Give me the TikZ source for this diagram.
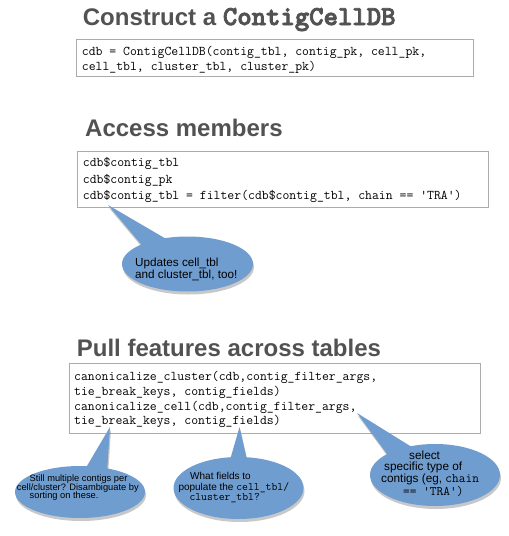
\documentclass[tikz,border=0pt]{standalone}
\usepackage{fontspec}
\setmainfont{Liberation Sans}
\newfontfamily\titlemono{lmmonolt10-bold.otf}[FakeBold=3]
\usetikzlibrary{calc,shadows,shapes.geometric}
\definecolor{titlegray}{HTML}{525252}
\definecolor{callblue}{RGB}{112,157,207}
\definecolor{boxline}{HTML}{ABABAB}
\begin{document}
\begin{tikzpicture}[x=1pt,y=-1pt,
  titletext/.style={anchor=base west, inner sep=0, text=titlegray, font=\fontsize{24}{28}\selectfont\bfseries},
  codeline/.style={anchor=base west, inner sep=0, font=\ttfamily\fontsize{13.37}{15}\selectfont},
  codebox/.style={draw=boxline, line width=1pt, fill=white, anchor=north west, inner sep=0},
  bubshadow/.style={drop shadow={shadow xshift=1pt, shadow yshift=-3pt, opacity=.3, fill=black!70}},
  callbubble/.style={ellipse, fill=callblue, inner sep=0, bubshadow},
  calltail/.style={fill=callblue, bubshadow},
  ctext/.style={anchor=base west, inner sep=0, text=black},
]
\useasboundingbox (0,0) rectangle (509,536);
\fill[white] (0,0) rectangle (509,536);

% titles
\node[titletext] (title1) at (82.7,25) {Construct a {\titlemono\mdseries\fontsize{27.4}{28}\selectfont ContigCellDB}};
\node[titletext] (title2) at (85,136.7) {Access members};
\node[titletext] (title3) at (76.7,356) {Pull features across tables};

% code boxes
\node[codebox, minimum width=397pt, minimum height=37pt] (box1) at (76,39) {};
\node[codebox, minimum width=411pt, minimum height=56pt] (box2) at (77,151) {};
\node[codebox, minimum width=411pt, minimum height=70pt] (box3) at (69,363) {};

\node[codeline] (l11) at (81.7,55.5) {cdb = ContigCellDB(contig\_tbl, contig\_pk, cell\_pk,};
\node[codeline] (l12) at (81.7,70.5) {cell\_tbl, cluster\_tbl, cluster\_pk)};

\node[codeline] (l21) at (82.7,166.5) {cdb\$contig\_tbl};
\node[codeline] (l22) at (82.7,183) {cdb\$contig\_pk};
\node[codeline] (l23) at (82.7,199) {cdb\$contig\_tbl = filter(cdb\$contig\_tbl, chain == 'TRA')};

\node[codeline] (l31) at (74,380) {canonicalize\_cluster(cdb,contig\_filter\_args,};
\node[codeline] (l32) at (74,395) {tie\_break\_keys, contig\_fields)};
\node[codeline] (l33) at (74,410) {canonicalize\_cell(cdb,contig\_filter\_args,};
\node[codeline] (l34) at (74,424.5) {tie\_break\_keys, contig\_fields)};

% callout 1
\coordinate (e1) at (187.5,264);
\coordinate (tip1) at (108,205);
\fill[calltail] (tip1) -- ($(e1)+(-45,-18)$) -- ($(e1)+(-19.5,-24)$) -- cycle;
\node[callbubble, minimum width=131pt, minimum height=55pt] (c1) at (e1) {};
\node[ctext, font=\fontsize{11.7}{10}\selectfont] (t1a) at (135,266.5) {Updates cell\_tbl};
\node[ctext, font=\fontsize{11.7}{10}\selectfont] (t1b) at (135,278) {and cluster\_tbl, too!};

% callout A
\coordinate (eA) at (80,492);
\coordinate (tipA) at (110,427);
\fill[calltail] (tipA) -- ($(eA)+(4,-21)$) -- ($(eA)+(27,-19)$) -- cycle;
\node[callbubble, minimum width=130pt, minimum height=52pt] (cA) at (eA) {};
\node[ctext, font=\fontsize{9.3}{9}\selectfont] (tAa) at (29.5,481.7) {Still multiple contigs per};
\node[ctext, font=\fontsize{9.3}{9}\selectfont] (tAb) at (16.7,490) {cell/cluster? Disambiguate by};
\node[ctext, font=\fontsize{9.3}{9}\selectfont] (tAc) at (29.5,498) {sorting on these.};

% callout B
\coordinate (eB) at (238.5,488);
\coordinate (tipB) at (239.5,427);
\fill[calltail] (tipB) -- ($(eB)+(-8.5,-28)$) -- ($(eB)+(8.5,-28)$) -- cycle;
\node[callbubble, minimum width=130pt, minimum height=62pt] (cB) at (eB) {};
\node[ctext, font=\fontsize{10}{10}\selectfont] (tBa) at (190,479.3) {What fields to};
\node[ctext, font=\fontsize{10}{10}\selectfont] (tBb) at (178.3,490) {populate the {\ttfamily\fontsize{11.4}{10}\selectfont cell\_tbl/}};
\node[ctext, font=\fontsize{11.4}{10}\selectfont\ttfamily] (tBc) at (189.3,500) {cluster\_tbl?};

% callout C
\coordinate (eC) at (435,475);
\coordinate (tipC) at (357,413);
\fill[calltail] (tipC) -- ($(eC)+(-45,-17)$) -- ($(eC)+(-20,-26)$) -- cycle;
\node[callbubble, minimum width=130pt, minimum height=62pt] (cC) at (eC) {};
\node[ctext, font=\fontsize{11.8}{12}\selectfont] (tCa) at (409,459) {select};
\node[ctext, font=\fontsize{11.8}{12}\selectfont] (tCb) at (384,470.5) {specific type of};
\node[ctext, font=\fontsize{11.8}{12}\selectfont] (tCc) at (381,482) {contigs (eg, {\ttfamily\fontsize{13}{12}\selectfont chain}};
\node[ctext, font=\fontsize{13}{12}\selectfont\ttfamily] (tCd) at (403,495) {== 'TRA')};
\end{tikzpicture}
\end{document}
